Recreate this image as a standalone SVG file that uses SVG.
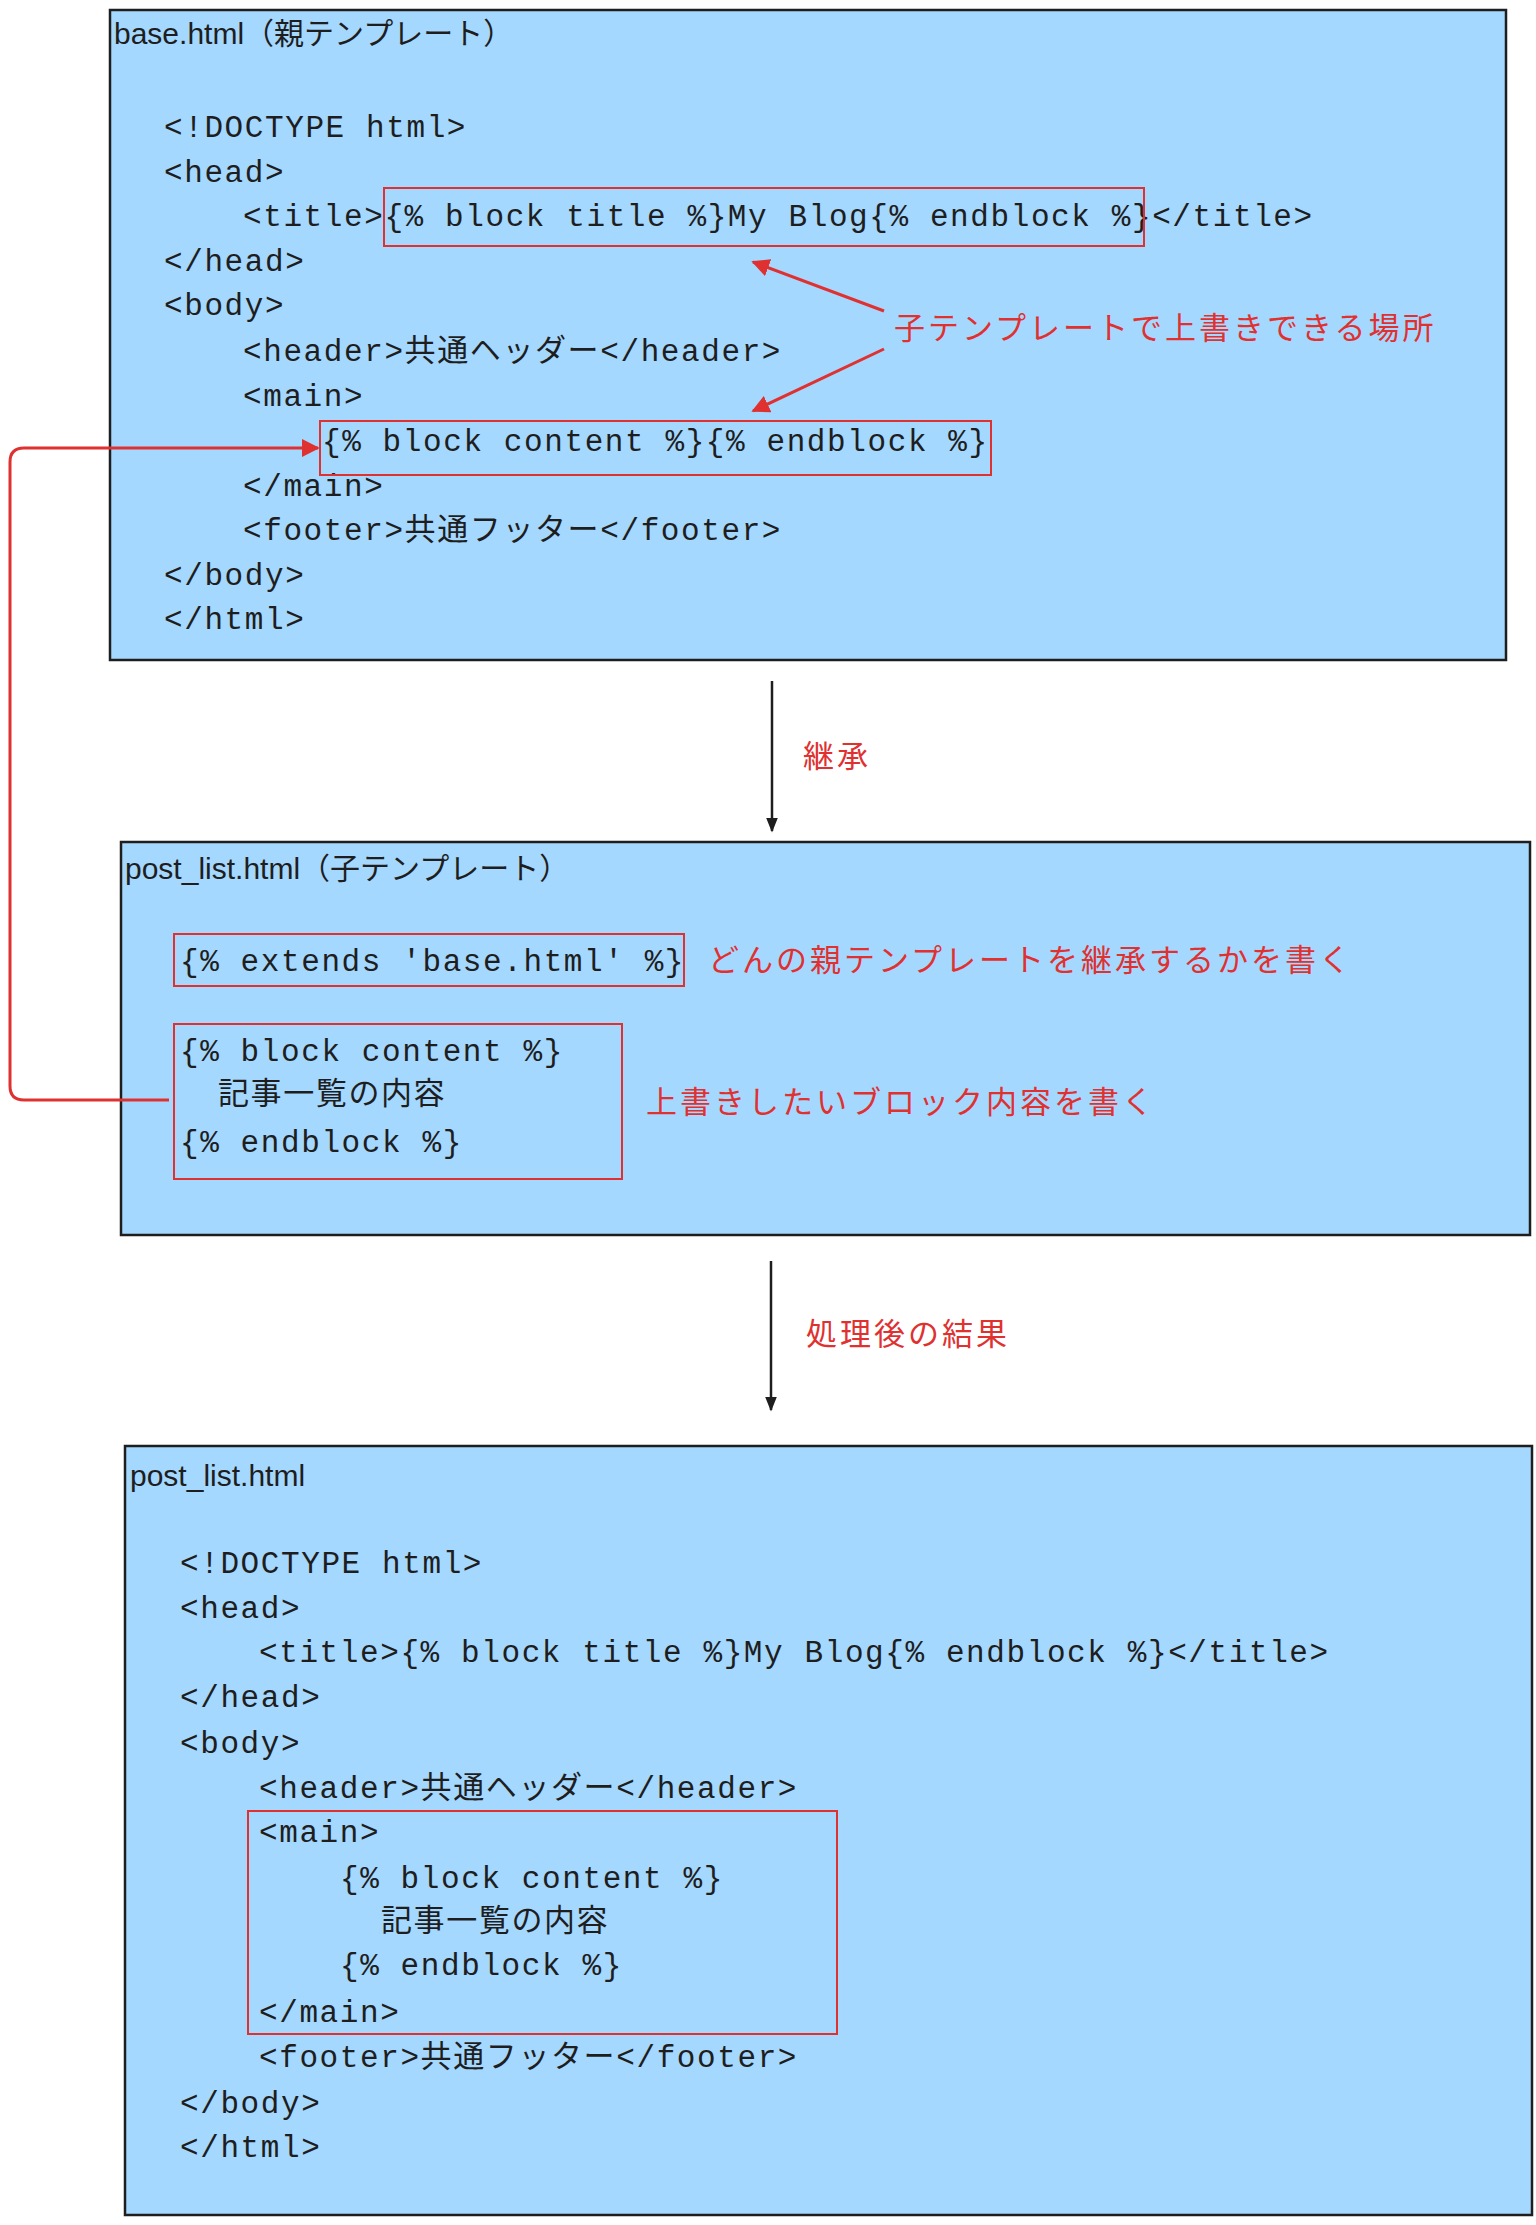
<svg xmlns="http://www.w3.org/2000/svg" width="1536" height="2225" viewBox="0 0 1536 2225">
<style>
.box{fill:#a5d8ff;stroke:#1e1e1e;stroke-width:2.5}
.rb{fill:none;stroke:#e03131;stroke-width:2}
.code{font-family:"Liberation Mono","Noto Sans CJK JP",monospace;font-size:31px;letter-spacing:1.6px;fill:#1e1e1e}
.ttl{font-family:"Liberation Sans","Noto Sans CJK JP",sans-serif;font-size:30px;fill:#1e1e1e}
.lbl{font-family:"Noto Sans CJK JP",sans-serif;font-size:31px;fill:#e03131;letter-spacing:3px}
.red{fill:none;stroke:#e03131;stroke-width:3}
.blk{fill:none;stroke:#1e1e1e;stroke-width:2.5}
</style>
<defs>
<marker id="ar" viewBox="0 0 10 10" refX="9" refY="5" markerWidth="6" markerHeight="6" orient="auto"><path d="M0,0 L10,5 L0,10 z" fill="#e03131"/></marker>
<marker id="ab" viewBox="0 0 10 10" refX="9" refY="5" markerWidth="6" markerHeight="6" orient="auto"><path d="M0,1 L10,5 L0,9 z" fill="#1e1e1e"/></marker>
</defs>
<g id="base">
<rect class="box" x="110" y="10" width="1396" height="650"/>
<text class="ttl" x="114" y="44">base.html（親テンプレート）</text>
<g class="code">
<text x="164" y="137">&lt;!DOCTYPE html&gt;</text>
<text x="164" y="182">&lt;head&gt;</text>
<text x="243" y="226">&lt;title&gt;{% block title %}My Blog{% endblock %}&lt;/title&gt;</text>
<text x="164" y="271">&lt;/head&gt;</text>
<text x="164" y="315">&lt;body&gt;</text>
<text x="243" y="361">&lt;header&gt;共通ヘッダー&lt;/header&gt;</text>
<text x="243" y="406">&lt;main&gt;</text>
<text x="322" y="451">{% block content %}{% endblock %}</text>
<text x="243" y="496">&lt;/main&gt;</text>
<text x="243" y="540">&lt;footer&gt;共通フッター&lt;/footer&gt;</text>
<text x="164" y="585">&lt;/body&gt;</text>
<text x="164" y="629">&lt;/html&gt;</text>
</g>
<rect class="rb" x="384" y="188" width="760" height="58"/>
<rect class="rb" x="320" y="421" width="671" height="54"/>
<text class="lbl" x="894" y="339">子テンプレートで上書きできる場所</text>
</g>
<g id="child">
<rect class="box" x="121" y="842" width="1409" height="393"/>
<text class="ttl" x="125" y="879">post_list.html（子テンプレート）</text>
<rect class="rb" x="174" y="934" width="510" height="52"/>
<text class="code" x="180" y="971">{% extends 'base.html' %}</text>
<text class="lbl" x="708" y="971">どんの親テンプレートを継承するかを書く</text>
<rect class="rb" x="174" y="1024" width="448" height="155"/>
<text class="code" x="180" y="1061">{% block content %}</text>
<text class="code" x="218" y="1104">記事一覧の内容</text>
<text class="code" x="180" y="1152">{% endblock %}</text>
<text class="lbl" x="646" y="1113">上書きしたいブロック内容を書く</text>
</g>
<g id="result">
<rect class="box" x="125" y="1446" width="1407" height="769"/>
<text class="ttl" x="130" y="1486">post_list.html</text>
<g class="code">
<text x="180" y="1573">&lt;!DOCTYPE html&gt;</text>
<text x="180" y="1618">&lt;head&gt;</text>
<text x="259" y="1662">&lt;title&gt;{% block title %}My Blog{% endblock %}&lt;/title&gt;</text>
<text x="180" y="1707">&lt;/head&gt;</text>
<text x="180" y="1753">&lt;body&gt;</text>
<text x="259" y="1798">&lt;header&gt;共通ヘッダー&lt;/header&gt;</text>
<text x="259" y="1842">&lt;main&gt;</text>
<text x="340" y="1888">{% block content %}</text>
<text x="381" y="1931">記事一覧の内容</text>
<text x="340" y="1975">{% endblock %}</text>
<text x="259" y="2022">&lt;/main&gt;</text>
<text x="259" y="2067">&lt;footer&gt;共通フッター&lt;/footer&gt;</text>
<text x="180" y="2113">&lt;/body&gt;</text>
<text x="180" y="2157">&lt;/html&gt;</text>
</g>
<rect class="rb" x="248" y="1811" width="589" height="223"/>
</g>
<g id="connectors">
<path class="red" d="M884,311 L753,262" marker-end="url(#ar)"/>
<path class="red" d="M884,349 L753,411" marker-end="url(#ar)"/>
<path class="red" d="M169,1100 L24,1100 Q10,1100 10,1086 L10,462 Q10,448 24,448 L318,448" marker-end="url(#ar)"/>
<path class="blk" d="M772,681 L772,831" marker-end="url(#ab)"/>
<text class="lbl" x="803" y="767">継承</text>
<path class="blk" d="M771,1261 L771,1410" marker-end="url(#ab)"/>
<text class="lbl" x="806" y="1345">処理後の結果</text>
</g>
</svg>
